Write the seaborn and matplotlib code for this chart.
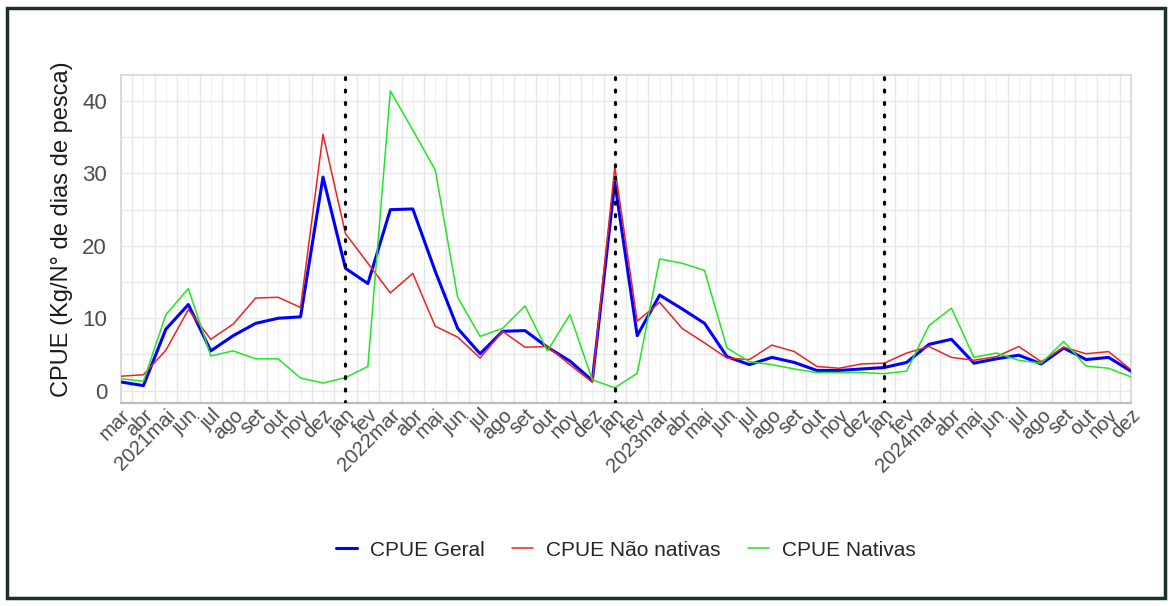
import matplotlib
matplotlib.use("Agg")
import matplotlib.pyplot as plt
from matplotlib.patches import Rectangle
import seaborn as sns
import pandas as pd
import numpy as np

# rótulos do eixo x (mar/2021 a dez/2024)
tick_labels = [
    "mar", "abr", "2021mai", "jun", "jul", "ago", "set", "out", "nov", "dez",
    "jan", "fev", "2022mar", "abr", "mai", "jun", "jul", "ago", "set", "out", "nov", "dez",
    "jan", "fev", "2023mar", "abr", "mai", "jun", "jul", "ago", "set", "out", "nov", "dez",
    "jan", "fev", "2024mar", "abr", "mai", "jun", "jul", "ago", "set", "out", "nov", "dez",
]

cpue_geral = [
    1.2, 0.7, 8.5, 11.9, 5.5, 7.6, 9.3, 10.0, 10.2, 29.5,
    16.9, 14.8, 25.0, 25.1, 16.5, 8.6, 5.1, 8.2, 8.3, 6.0, 4.1, 1.4,
    28.8, 7.6, 13.2, 11.3, 9.3, 4.7, 3.6, 4.6, 3.9, 2.8, 2.8, 3.0,
    3.2, 3.9, 6.4, 7.1, 3.8, 4.4, 4.9, 3.7, 5.9, 4.3, 4.6, 2.7,
]
cpue_nao_nativas = [
    2.0, 2.2, 5.6, 11.2, 7.1, 9.2, 12.8, 12.9, 11.5, 35.4,
    21.7, 17.6, 13.5, 16.2, 8.9, 7.4, 4.5, 8.2, 6.0, 6.1, 3.6, 1.15,
    30.9, 9.6, 12.2, 8.6, 6.6, 4.5, 4.3, 6.3, 5.4, 3.35, 3.1, 3.7,
    3.8, 5.2, 6.1, 4.6, 4.2, 4.7, 6.1, 4.0, 6.0, 5.1, 5.4, 2.9,
]
cpue_nativas = [
    1.65, 1.3, 10.5, 14.1, 4.8, 5.5, 4.4, 4.4, 1.75, 1.06,
    1.8, 3.35, 41.4, 36.0, 30.5, 12.9, 7.5, 8.6, 11.7, 5.5, 10.5, 1.5,
    0.4, 2.4, 18.2, 17.6, 16.6, 5.9, 4.0, 3.6, 3.0, 2.5, 2.5, 2.5,
    2.35, 2.7, 9.0, 11.4, 4.6, 5.2, 4.2, 3.8, 6.8, 3.4, 3.1, 1.9,
]
year_starts = ["jan/2022", "jan/2023", "jan/2024"]

series = {
    "CPUE Geral": cpue_geral,
    "CPUE Não nativas": cpue_nao_nativas,
    "CPUE Nativas": cpue_nativas,
}
colors = {"CPUE Geral": "#0000ff", "CPUE Não nativas": "#ee2222", "CPUE Nativas": "#22e622"}
widths = {"CPUE Geral": 2.2, "CPUE Não nativas": 1.1, "CPUE Nativas": 1.1}

df = pd.DataFrame({"idx": np.arange(len(tick_labels))})
for name, vals in series.items():
    df[name] = vals
df_long = df.melt(id_vars="idx", var_name="serie", value_name="cpue")

sns.set_theme(style="white")
plt.rcParams["font.family"] = ["Liberation Sans", "DejaVu Sans"]

fig = plt.figure(figsize=(11.72, 6.06), dpi=100)
ax = fig.add_axes([121 / 1172, 1 - 403 / 606, 1010 / 1172, 328 / 606])

# grade
n = len(tick_labels)
for i in range(n):
    ax.axvline(i, color="#f1f1f1", lw=0.8, zorder=0)
for i in range(n - 1):
    ax.axvline(i + 0.5, color="#e6e6e6", lw=1.0, zorder=0)
for v in range(0, 45, 5):
    ax.axhline(v, color="#e8e8e8", lw=1.0, zorder=0)

for name in series:
    sns.lineplot(
        data=df_long[df_long["serie"] == name], x="idx", y="cpue",
        color=colors[name], linewidth=widths[name], label=name, ax=ax, zorder=3,
    )

# linhas pontilhadas em janeiro
jan_pos = [i for i, t in enumerate(tick_labels) if t == "jan"]
for k, lab in enumerate(year_starts):
    ax.axvline(jan_pos[k], color="black", lw=2.3, linestyle=(0, (0.6, 3.3)),
               dash_capstyle="round", zorder=4)

ax.set_xlim(0, n - 1)
ax.set_ylim(-1.7, 43.6)
ax.set_yticks([0, 10, 20, 30, 40])
ax.set_xticks(range(n))
ax.set_xticklabels(tick_labels, rotation=45, ha="right", va="top",
                   rotation_mode="anchor", fontsize=14.5, color="#4d4d4d")
ax.tick_params(axis="y", labelsize=16, labelcolor="#4d4d4d", length=0, pad=10)
ax.tick_params(axis="x", length=0, pad=2)
ax.set_xlabel("")
ax.set_ylabel("CPUE (Kg/N° de dias de pesca)", fontsize=17, color="#1a1a1a")
ax.yaxis.set_label_coords(-0.048, 0.53)
for side in ["top", "right", "left"]:
    ax.spines[side].set_color("#d6d6d6")
    ax.spines[side].set_linewidth(1.2)
ax.spines["bottom"].set_color("#bdbdbd")
ax.spines["bottom"].set_linewidth(1.6)

ax.get_legend().remove()
handles, labels = ax.get_legend_handles_labels()
fig.legend(handles, labels, loc="center", bbox_to_anchor=(626 / 1172, 1 - 550 / 606),
           ncol=3, frameon=False, fontsize=15, handlelength=1.0,
           handletextpad=0.65, columnspacing=1.3)

# moldura externa
fig.patches.append(Rectangle((7 / 1172, 8 / 606), 1158 / 1172, 590 / 606,
                             transform=fig.transFigure, fill=False,
                             edgecolor="#1b302d", linewidth=2.5))

fig.savefig("out.png", dpi=100)
